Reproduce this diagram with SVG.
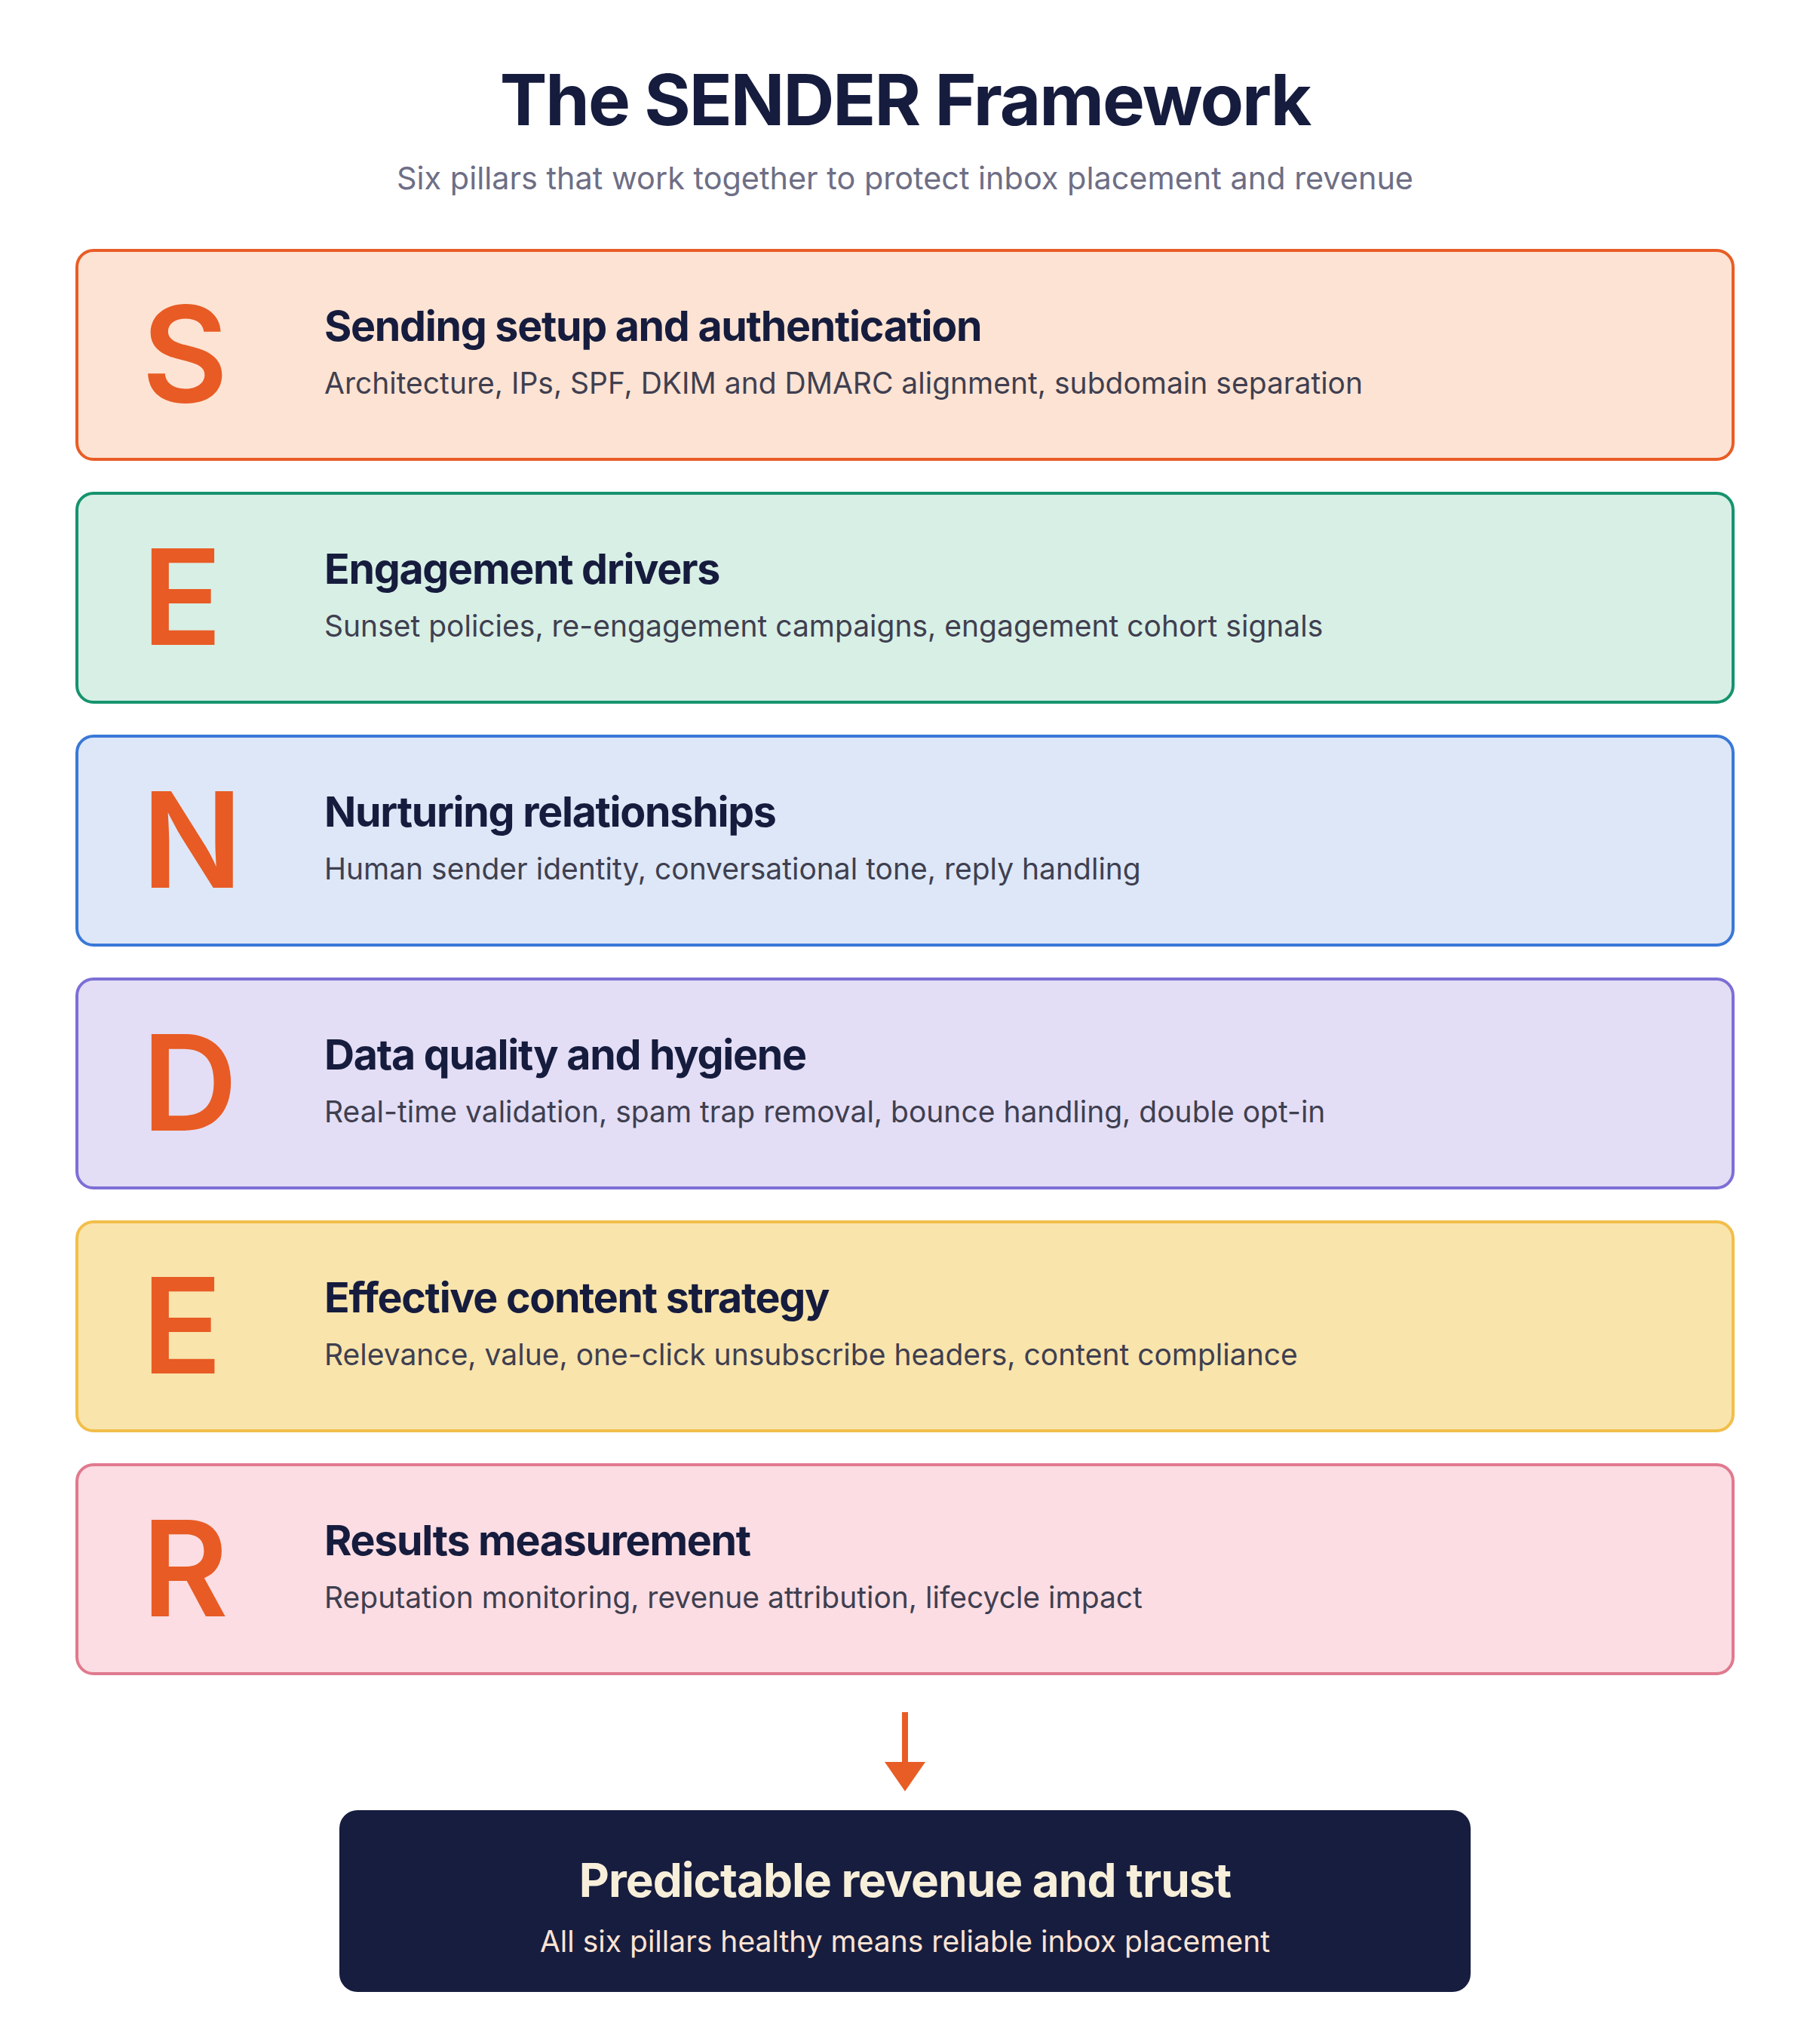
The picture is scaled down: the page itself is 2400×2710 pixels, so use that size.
<svg xmlns="http://www.w3.org/2000/svg" width="2400" height="2710" viewBox="0 0 2400 2710">
<defs>
<style>
.title{font-family:Inter,"Liberation Sans",sans-serif;font-weight:700;font-size:94px;fill:#161c3d;text-anchor:middle;letter-spacing:-2px}
.sub{font-family:Inter,"Liberation Sans",sans-serif;font-weight:400;font-size:41.4px;fill:#6e6e85;text-anchor:middle}
.letter{font-family:Inter,"Liberation Sans",sans-serif;font-weight:600;font-size:176px;fill:#e85b24}
.head{font-family:Inter,"Liberation Sans",sans-serif;font-weight:700;font-size:55.5px;fill:#161c3d;letter-spacing:-1.3px}
.desc{font-family:Inter,"Liberation Sans",sans-serif;font-weight:400;font-size:39px;fill:#3f3f50}
.box{stroke-width:4}
.ftitle{font-family:Inter,"Liberation Sans",sans-serif;font-weight:700;font-size:62px;fill:#f7efd9;text-anchor:middle;letter-spacing:-1px}
.fsub{font-family:Inter,"Liberation Sans",sans-serif;font-weight:400;font-size:39px;fill:#fde3d3;text-anchor:middle}
</style>
<marker id="ah" markerUnits="userSpaceOnUse" markerWidth="39" markerHeight="54" viewBox="0 0 39 54" refX="0" refY="27" orient="auto">
<path d="M0,0 L39,27 L0,54 Z" fill="#e85d26"/>
</marker>
</defs>
<rect width="2400" height="2710" fill="#ffffff"/>
<g id="header">
<text class="title" x="1200" y="166">The SENDER Framework</text>
<text class="sub" x="1200" y="251">Six pillars that work together to protect inbox placement and revenue</text>
</g>
<g id="pillar-s">
<rect class="box" x="102" y="332" width="2196" height="277" rx="22" fill="#fde3d3" stroke="#e85d26"/>
<text class="letter" x="188" y="533">S</text>
<text class="head" x="430" y="452">Sending setup and authentication</text>
<text class="desc" x="430" y="522">Architecture, IPs, SPF, DKIM and DMARC alignment, subdomain separation</text>
</g>
<g id="pillar-e1">
<rect class="box" x="102" y="654" width="2196" height="277" rx="22" fill="#d8efe5" stroke="#16936e"/>
<text class="letter" x="188" y="855">E</text>
<text class="head" x="430" y="774">Engagement drivers</text>
<text class="desc" x="430" y="844">Sunset policies, re-engagement campaigns, engagement cohort signals</text>
</g>
<g id="pillar-n">
<rect class="box" x="102" y="976" width="2196" height="277" rx="22" fill="#dde7f7" stroke="#3a78d8"/>
<text class="letter" x="188" y="1177">N</text>
<text class="head" x="430" y="1096">Nurturing relationships</text>
<text class="desc" x="430" y="1166">Human sender identity, conversational tone, reply handling</text>
</g>
<g id="pillar-d">
<rect class="box" x="102" y="1298" width="2196" height="277" rx="22" fill="#e3def5" stroke="#7d6fd6"/>
<text class="letter" x="188" y="1499">D</text>
<text class="head" x="430" y="1418">Data quality and hygiene</text>
<text class="desc" x="430" y="1488">Real-time validation, spam trap removal, bounce handling, double opt-in</text>
</g>
<g id="pillar-e2">
<rect class="box" x="102" y="1620" width="2196" height="277" rx="22" fill="#f9e4ac" stroke="#f2be4a"/>
<text class="letter" x="188" y="1821">E</text>
<text class="head" x="430" y="1740">Effective content strategy</text>
<text class="desc" x="430" y="1810">Relevance, value, one-click unsubscribe headers, content compliance</text>
</g>
<g id="pillar-r">
<rect class="box" x="102" y="1942" width="2196" height="277" rx="22" fill="#fbdde3" stroke="#e07a8e"/>
<text class="letter" x="188" y="2143">R</text>
<text class="head" x="430" y="2062">Results measurement</text>
<text class="desc" x="430" y="2132">Reputation monitoring, revenue attribution, lifecycle impact</text>
</g>
<g id="connectors">
<line x1="1200" y1="2270" x2="1200" y2="2336" stroke="#e85d26" stroke-width="8" marker-end="url(#ah)"/>
</g>
<g id="outcome">
<rect x="450" y="2400" width="1500" height="241" rx="24" fill="#171d3f"/>
<text class="ftitle" x="1200" y="2515">Predictable revenue and trust</text>
<text class="fsub" x="1200" y="2588">All six pillars healthy means reliable inbox placement</text>
</g>
</svg>
